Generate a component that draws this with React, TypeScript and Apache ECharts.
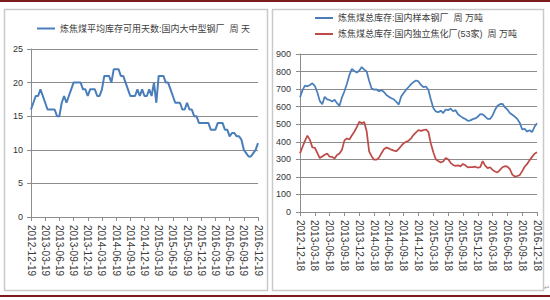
import React, { useEffect, useRef } from 'react';
import * as echarts from 'echarts';

const FONT = '"Liberation Sans", "Noto Sans CJK SC", sans-serif';

const leftTicks = ['2012-12-19', '2013-03-19', '2013-06-19', '2013-09-19', '2013-12-19', '2014-03-19', '2014-06-19', '2014-09-19', '2014-12-19', '2015-03-19', '2015-06-19', '2015-09-19', '2015-12-19', '2016-03-19', '2016-06-19', '2016-09-19', '2016-12-19'];
const rightTicks = ['2012-12-18', '2013-03-18', '2013-06-18', '2013-09-18', '2013-12-18', '2014-03-18', '2014-06-18', '2014-09-18', '2014-12-18', '2015-03-18', '2015-06-18', '2015-09-18', '2015-12-18', '2016-03-18', '2016-06-18', '2016-09-18', '2016-12-18'];

const leftName = '炼焦煤平均库存可用天数:国内大中型钢厂  周 天';
const blueName = '炼焦煤总库存:国内样本钢厂  周 万吨';
const redName = '炼焦煤总库存:国内独立焦化厂(53家)  周 万吨';

const daysValues = [
  16, 17, 18, 18, 19, 18, 17, 16, 16, 16,
  16, 15, 15, 17, 18, 17, 18, 19, 20, 20,
  20, 20, 19, 19, 18, 19, 19, 19, 18, 18,
  19, 21, 21, 21, 20, 22, 22, 22, 21, 21,
  20, 19, 18, 18, 18, 19, 18, 19, 18, 18,
  19, 18, 20, 17, 21, 21, 21, 20, 20, 19,
  18, 17, 17, 17, 16, 16, 17, 16, 16, 15,
  15, 14, 14, 14, 14, 14, 13, 13, 13, 14,
  14, 14, 13, 13, 12, 12.5, 12.5, 12, 12, 11.5,
  10, 9.5, 9, 9, 9.5, 10, 11,
];

const steelValues = [
  654, 693, 720, 716, 724, 733, 719, 682, 633, 614,
  656, 642, 638, 630, 639, 620, 605, 653, 688, 730,
  780, 815, 803, 795, 805, 826, 811, 800, 748, 703,
  697, 698, 688, 694, 684, 666, 657, 648, 642, 628,
  612, 658, 678, 697, 712, 728, 740, 749, 744, 724,
  711, 715, 696, 641, 592, 573, 568, 577, 564, 584,
  580, 589, 574, 580, 557, 546, 536, 530, 519, 522,
  529, 533, 542, 558, 556, 544, 530, 530, 550, 582,
  605, 614, 616, 596, 584, 564, 554, 543, 530, 509,
  470, 473, 458, 466, 455, 485, 505,
];

const cokingValues = [
  334, 370, 405, 435, 411, 368, 366, 337, 307, 316,
  326, 333, 315, 314, 305, 325, 333, 355, 408, 419,
  413, 436, 457, 483, 514, 505, 513, 460, 345, 318,
  298, 298, 310, 335, 358, 367, 362, 355, 350, 346,
  360, 376, 392, 400, 406, 420, 440, 454, 466, 462,
  466, 470, 457, 390, 340, 300, 290, 282, 288, 307,
  300, 280, 268, 263, 266, 260, 274, 266, 254, 256,
  256, 258, 252, 256, 290, 264, 250, 255, 240, 231,
  225, 240, 255, 261, 258, 245, 213, 202, 205, 210,
  233, 258, 274, 295, 314, 332, 340,
];

const PER_TICK = 6;
const GRID_COLOR = '#8c8c8c';
const LABEL_COLOR = '#333333';

function makeXAxis(gridIndex: number, n: number, ticks: string[]) {
  return {
    gridIndex,
    type: 'category',
    boundaryGap: false,
    data: Array.from({ length: n }, (_, i) => String(i)),
    axisLine: { show: true, lineStyle: { color: GRID_COLOR, width: 1 } },
    axisTick: { show: true, interval: PER_TICK - 1, length: 4, lineStyle: { color: GRID_COLOR } },
    axisLabel: {
      interval: PER_TICK - 1,
      rotate: -90,
      margin: 8,
      fontSize: 10,
      color: '#3a3a3a',
      fontFamily: FONT,
      formatter: (_v: string, idx: number) => (idx % PER_TICK === 0 ? ticks[idx / PER_TICK] : ''),
    },
    splitLine: { show: false },
  };
}

function makeYAxis(gridIndex: number, max: number, interval: number, margin: number) {
  return {
    gridIndex,
    type: 'value',
    min: 0,
    max,
    interval,
    axisLine: { show: true, lineStyle: { color: GRID_COLOR, width: 1 } },
    axisTick: { show: true, length: 4, lineStyle: { color: GRID_COLOR } },
    axisLabel: { fontSize: 9, color: LABEL_COLOR, margin, fontFamily: FONT },
    splitLine: { show: true, lineStyle: { color: GRID_COLOR, width: 1 } },
  };
}

export default function App() {
  const ref = useRef<HTMLDivElement>(null);
  useEffect(() => {
    const chart = echarts.init(ref.current!, null, { renderer: 'svg' });
    const legendText = { fontSize: 9, color: '#404040', fontFamily: FONT };
    chart.setOption({
      animation: false,
      backgroundColor: '#ffffff',
      textStyle: { fontFamily: FONT },
      graphic: [
        { type: 'rect', z: 0, shape: { x: 0, y: 0, width: 550, height: 2 }, style: { fill: '#7b1c1c' } },
        { type: 'rect', z: 0, shape: { x: 0, y: 295, width: 550, height: 2 }, style: { fill: '#7b1c1c' } },
        { type: 'rect', z: 0, shape: { x: 4.5, y: 9.5, width: 263, height: 281 }, style: { fill: 'none', stroke: '#c9c9c9', lineWidth: 1.5 } },
        { type: 'rect', z: 0, shape: { x: 272.5, y: 9.5, width: 271, height: 281 }, style: { fill: 'none', stroke: '#c9c9c9', lineWidth: 1.5 } },
        { type: 'text', z: 0, x: 544, y: 284, style: { text: '↵', fontSize: 7, fill: '#999999', fontFamily: FONT } },
      ],
      legend: [
        {
          data: [{ name: leftName, icon: 'rect' }],
          left: 37,
          top: 24,
          padding: 0,
          itemWidth: 18,
          itemHeight: 2,
          textStyle: legendText,
        },
        {
          data: [{ name: blueName, icon: 'rect' }, { name: redName, icon: 'rect' }],
          orient: 'vertical',
          left: 315,
          top: 13.5,
          padding: 0,
          itemGap: 7,
          itemWidth: 18,
          itemHeight: 2,
          textStyle: legendText,
        },
      ],
      grid: [
        { left: 31, top: 49, width: 227, height: 168 },
        { left: 300, top: 54, width: 237, height: 158 },
      ],
      xAxis: [
        makeXAxis(0, daysValues.length, leftTicks),
        makeXAxis(1, steelValues.length, rightTicks),
      ],
      yAxis: [makeYAxis(0, 25, 5, 8), makeYAxis(1, 900, 100, 9)],
      series: [
        {
          name: leftName,
          type: 'line',
          xAxisIndex: 0,
          yAxisIndex: 0,
          data: daysValues,
          showSymbol: false,
          symbol: 'none',
          lineStyle: { color: '#4a7ebb', width: 2 },
          itemStyle: { color: '#4a7ebb' },
        },
        {
          name: blueName,
          type: 'line',
          xAxisIndex: 1,
          yAxisIndex: 1,
          data: steelValues,
          showSymbol: false,
          symbol: 'none',
          lineStyle: { color: '#4a7ebb', width: 1.75 },
          itemStyle: { color: '#4a7ebb' },
        },
        {
          name: redName,
          type: 'line',
          xAxisIndex: 1,
          yAxisIndex: 1,
          data: cokingValues,
          showSymbol: false,
          symbol: 'none',
          lineStyle: { color: '#be4b48', width: 1.75 },
          itemStyle: { color: '#be4b48' },
        },
      ],
    });
    return () => chart.dispose();
  }, []);
  return (
    <div
      ref={ref}
      style={{ position: 'absolute', left: 0, top: 0, width: 550, height: 300, background: '#ffffff' }}
    />
  );
}
